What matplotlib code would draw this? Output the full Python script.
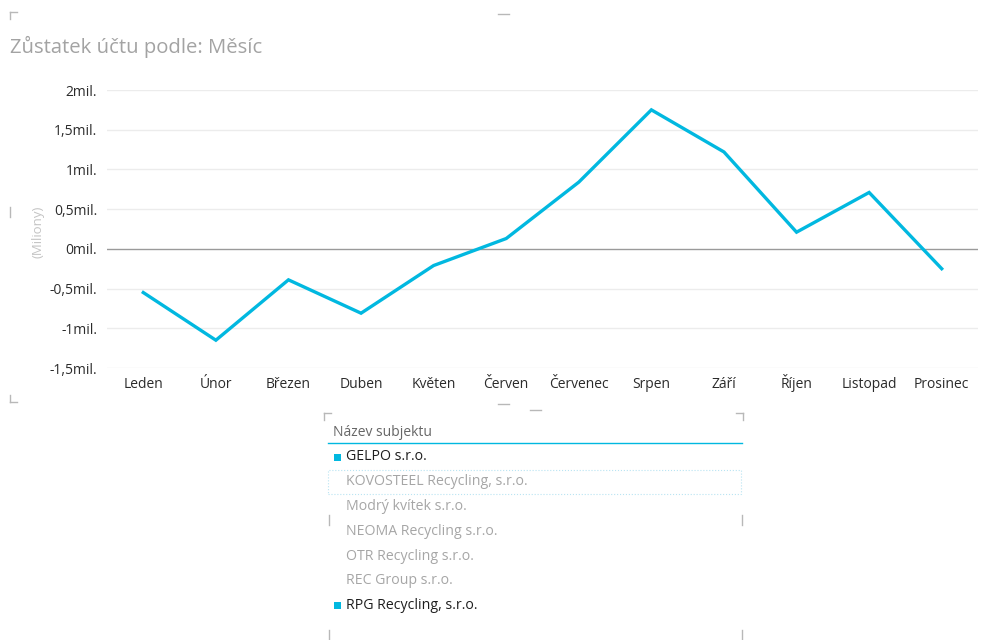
import matplotlib
matplotlib.use("Agg")
import matplotlib.pyplot as plt
from matplotlib.patches import Rectangle
from matplotlib.lines import Line2D

plt.rcParams['font.family'] = ['Open Sans', 'DejaVu Sans']

months = ["Leden", "Únor", "Březen", "Duben", "Květen", "Červen", "Červenec",
          "Srpen", "Září", "Říjen", "Listopad", "Prosinec"]
balance_mil = [-0.55, -1.15, -0.39, -0.81, -0.21, 0.13, 0.84, 1.75, 1.22, 0.21, 0.71, -0.25]
y_ticks = [-1.5, -1.0, -0.5, 0.0, 0.5, 1.0, 1.5, 2.0]
y_tick_labels = ["-1,5mil.", "-1mil.", "-0,5mil.", "0mil.", "0,5mil.", "1mil.", "1,5mil.", "2mil."]
title = "Zůstatek účtu podle: Měsíc"
y_label = "(Miliony)"
legend_title = "Název subjektu"
companies = ["GELPO s.r.o.", "KOVOSTEEL Recycling, s.r.o.", "Modrý kvítek s.r.o.",
             "NEOMA Recycling s.r.o.", "OTR Recycling s.r.o.", "REC Group s.r.o.",
             "RPG Recycling, s.r.o."]
selected = [True, False, False, False, False, False, True]

W, H = 981, 640
fig = plt.figure(figsize=(W / 100, H / 100), dpi=100)
fig.patch.set_facecolor("white")

def fx(px):
    return px / W

def fy(py):
    return 1 - py / H

blue = "#01B8E0"

ax = fig.add_axes([fx(107), fy(368), fx(978) - fx(107), fy(90) - fy(368)])
x = list(range(len(months)))
ax.plot(x, balance_mil, color=blue, lw=2.4, solid_joinstyle="miter", zorder=3)
ax.set_xlim(-0.5, 11.5)
ax.set_ylim(-1.5, 2.0)
ax.set_yticks(y_ticks)
ax.set_yticklabels(y_tick_labels)
ax.set_xticks(x)
ax.set_xticklabels(months, va="baseline")
for s in ax.spines.values():
    s.set_visible(False)
ax.tick_params(axis="both", length=0, labelsize=10, labelcolor="#2b2b2b")
ax.tick_params(axis="x", pad=14.5)
ax.tick_params(axis="y", pad=7)
for t in y_ticks:
    if t == 0:
        ax.axhline(t, color="#9a9a9a", lw=1.0, zorder=2)
    else:
        ax.axhline(t, color="#ececec", lw=1.0, zorder=1)
ax.set_facecolor("none")

fig.text(fx(10), fy(47), title, fontsize=14.6, color="#a3a3a3", va="center", ha="left")
fig.text(fx(38), fy(232), y_label, fontsize=9.5, color="#c4c4c4", rotation=90,
         va="center", ha="center")

# decoration marks of visual frame
deco = "#b8b8b8"
def seg(x0, y0, x1, y1, c=deco, lw=1.0, ls="-"):
    fig.add_artist(Line2D([fx(x0), fx(x1)], [fy(y0), fy(y1)], color=c, lw=lw, ls=ls))

seg(10, 12, 17, 12); seg(10, 12, 10, 19)
seg(10, 395, 10, 402); seg(10, 402, 17, 402)
seg(498, 14, 509, 14)
seg(10, 207, 10, 217)
seg(498, 404, 509, 404)
seg(530, 410, 541, 410)
# slicer frame marks
seg(324, 413, 331, 413); seg(324, 413, 324, 420)
seg(736, 413, 743, 413); seg(743, 413, 743, 420)
seg(329, 515, 329, 525); seg(742, 515, 742, 525)
seg(329, 630, 329, 640); seg(742, 630, 742, 640)

# slicer
fig.text(fx(333), fy(432), legend_title, fontsize=10, color="#666666", va="center", ha="left")
seg(328, 443, 742, 443, c=blue, lw=1.0)
row_y0 = 457
row_step = 24.8
for i, (name, sel) in enumerate(zip(companies, selected)):
    yy = row_y0 + i * row_step
    if sel:
        fig.add_artist(Rectangle((fx(334), fy(yy + 3.5)), fx(7), fy(0) - fy(7),
                                 facecolor=blue, edgecolor="none"))
        fig.text(fx(346), fy(yy), name, fontsize=10.2, color="#1e1e1e", va="center", ha="left")
    else:
        fig.text(fx(346), fy(yy), name, fontsize=10.2, color="#a6a6a6", va="center", ha="left")
# focus rectangle on second row
yy = row_y0 + row_step
fig.add_artist(Rectangle((fx(328), fy(yy + 12)), fx(741) - fx(328), fy(0) - fy(24),
                         facecolor="none", edgecolor="#b9e4f2", lw=0.8, ls=":"))

fig.savefig("out.png", dpi=100, facecolor="white")
